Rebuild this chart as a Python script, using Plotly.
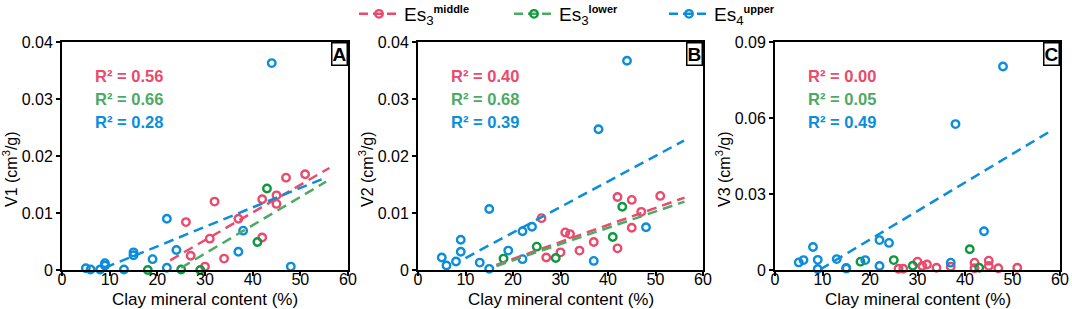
import plotly.graph_objects as go

# ---------------- data ----------------
# Panel A (V1)
xa_mid = [26, 27, 30, 31, 32, 34, 37, 42, 42, 45, 45, 47, 51]
ya_mid = [0.0084, 0.0025, 0.0006, 0.0055, 0.0120, 0.0020, 0.0090, 0.0124, 0.0057, 0.0131, 0.0116, 0.0162, 0.0168]
xa_low = [18, 25, 29, 41, 43]
ya_low = [0.0000, 0.0001, 0.0000, 0.0049, 0.0143]
xa_up = [5, 6, 8, 9, 9, 13, 15, 15, 19, 22, 22, 24, 37, 38, 44, 48]
ya_up = [0.0003, 0.0001, 0.0001, 0.0012, 0.0008, 0.0001, 0.0031, 0.0026, 0.0019, 0.0004, 0.0090, 0.0035, 0.0032, 0.0069, 0.0363, 0.0006]

# Panel B (V2)
xb_mid = [26, 27, 30, 31, 32, 34, 37, 42, 42, 45, 45, 47, 51]
yb_mid = [0.0091, 0.0022, 0.0031, 0.0066, 0.0063, 0.0034, 0.0049, 0.0128, 0.0038, 0.0123, 0.0074, 0.0102, 0.0130]
xb_low = [18, 25, 29, 41, 43]
yb_low = [0.0020, 0.0041, 0.0021, 0.0058, 0.0111]
xb_up = [5, 6, 8, 9, 9, 13, 15, 15, 19, 22, 22, 24, 37, 38, 44, 48]
yb_up = [0.0022, 0.0008, 0.0015, 0.0053, 0.0032, 0.0013, 0.0107, 0.0002, 0.0034, 0.0068, 0.0019, 0.0076, 0.0016, 0.0247, 0.0367, 0.0075]

# Panel C (V3)
xc_mid = [26, 27, 30, 31, 32, 34, 37, 42, 42, 45, 45, 47, 51]
yc_mid = [0.0005, 0.0005, 0.0033, 0.0016, 0.0022, 0.0009, 0.0013, 0.0029, 0.0007, 0.0037, 0.0016, 0.0007, 0.0009]
xc_low = [18, 25, 29, 41, 43]
yc_low = [0.0033, 0.0039, 0.0017, 0.0082, 0.0009]
xc_up = [5, 6, 8, 9, 9, 13, 15, 15, 19, 22, 22, 24, 37, 38, 44, 48]
yc_up = [0.0030, 0.0039, 0.0091, 0.0040, 0.0004, 0.0043, 0.0008, 0.0006, 0.0039, 0.0118, 0.0016, 0.0107, 0.0029, 0.0576, 0.0153, 0.0803]

# fitted trend lines (end points)
fit_a_mid_x, fit_a_mid_y = [22.7, 56.1], [0.0017, 0.0179]
fit_a_low_x, fit_a_low_y = [25.0, 55.4], [0.0004, 0.0155]
fit_a_up_x, fit_a_up_y = [9.0, 55.0], [0.0004, 0.0161]
fit_b_mid_x, fit_b_mid_y = [16.5, 56.1], [0.0009, 0.0127]
fit_b_low_x, fit_b_low_y = [16.5, 56.1], [0.0007, 0.0120]
fit_b_up_x, fit_b_up_y = [10.0, 56.0], [0.0021, 0.0227]
fit_c_up_x, fit_c_up_y = [9.5, 57.8], [0.0002, 0.0546]

r2_a = ["0.56", "0.66", "0.28"]
r2_b = ["0.40", "0.68", "0.39"]
r2_c = ["0.00", "0.05", "0.49"]

y_titles = ["V1", "V2", "V3"]
panel_labels = ["A", "B", "C"]
x_ticks = [0, 10, 20, 30, 40, 50, 60]
y_ticks_ab = [0, 0.01, 0.02, 0.03, 0.04]
y_ticks_c = [0, 0.03, 0.06, 0.09]
series_names = ["Es<sub>3</sub><sup><span style='font-size:11px'><b>middle</b></span></sup>",
                "Es<sub>3</sub><sup><span style='font-size:11px'><b>lower</b></span></sup>",
                "Es<sub>4</sub><sup><span style='font-size:11px'><b>upper</b></span></sup>"]

# ---------------- style ----------------
RED = "#EA4A6C"
GREEN_M = "#0C9A3E"
GREEN_L = "#4DAA65"
BLUE = "#0A8EDC"
FONT = "Liberation Sans, Arial, sans-serif"
W, H = 1072, 309

doms = [[62 / W, 348 / W], [418 / W, 703 / W], [775 / W, 1060 / W]]
ydom = [1 - 270 / H, 1 - 42 / H]

fig = go.Figure()

panels = [
    (xa_mid, ya_mid, xa_low, ya_low, xa_up, ya_up,
     [(fit_a_mid_x, fit_a_mid_y, RED), (fit_a_low_x, fit_a_low_y, GREEN_L), (fit_a_up_x, fit_a_up_y, BLUE)]),
    (xb_mid, yb_mid, xb_low, yb_low, xb_up, yb_up,
     [(fit_b_mid_x, fit_b_mid_y, RED), (fit_b_low_x, fit_b_low_y, GREEN_L), (fit_b_up_x, fit_b_up_y, BLUE)]),
    (xc_mid, yc_mid, xc_low, yc_low, xc_up, yc_up,
     [(fit_c_up_x, fit_c_up_y, BLUE)]),
]

DASH = "10px,6px"
for i, (xm, ym, xl, yl, xu, yu, fits) in enumerate(panels):
    xa = "x" if i == 0 else f"x{i + 1}"
    ya = "y" if i == 0 else f"y{i + 1}"
    for xs, ys, col in [(xm, ym, RED), (xl, yl, GREEN_M), (xu, yu, BLUE)]:
        fig.add_trace(go.Scatter(x=xs, y=ys, mode="markers", xaxis=xa, yaxis=ya,
                                 marker=dict(symbol="circle-open", size=7.5, color=col,
                                             line=dict(width=2.4, color=col)),
                                 cliponaxis=False, showlegend=False))
    for fx, fy, col in fits:
        fig.add_trace(go.Scatter(x=fx, y=fy, mode="lines", xaxis=xa, yaxis=ya,
                                 line=dict(color=col, width=2.5, dash=DASH),
                                 showlegend=False))

# legend entries
for name, mcol, lcol in zip(series_names, [RED, GREEN_M, BLUE], [RED, GREEN_L, BLUE]):
    fig.add_trace(go.Scatter(x=[None], y=[None], mode="lines+markers", name=name,
                             marker=dict(symbol="circle-open", size=7.5, color=mcol,
                                         line=dict(width=2.4, color=mcol)),
                             line=dict(color=lcol, width=2.5, dash="9px,5px")))

axis_common = dict(showline=True, linecolor="black", linewidth=2, mirror=True,
                   ticks="outside", ticklen=4, tickwidth=1.5, tickcolor="black",
                   showgrid=False, zeroline=False, automargin=False,
                   tickfont=dict(family=FONT, size=16, color="black"))

annotations = []
for i in range(3):
    xk = "xaxis" if i == 0 else f"xaxis{i + 1}"
    yk = "yaxis" if i == 0 else f"yaxis{i + 1}"
    ya = "y" if i == 0 else f"y{i + 1}"
    xa = "x" if i == 0 else f"x{i + 1}"
    yt = y_ticks_c if i == 2 else y_ticks_ab
    fig.layout[xk] = dict(domain=doms[i], range=[0, 60], anchor=ya, ticklabelstandoff=-10,
                          tickvals=x_ticks, ticktext=[str(t) for t in x_ticks], **axis_common)
    fig.layout[yk] = dict(domain=ydom, range=[0, yt[-1]], anchor=xa,
                          tickvals=yt, ticktext=["0"] + [f"{t:.2f}" for t in yt[1:]], **axis_common)
    cx = (doms[i][0] + doms[i][1]) / 2
    annotations.append(dict(text="Clay mineral content (%)", xref="paper", yref="paper",
                            x=cx, y=1 - 299 / H, xanchor="center", yanchor="middle",
                            showarrow=False, font=dict(family=FONT, size=17, color="black")))
    annotations.append(dict(text=f"{y_titles[i]} (cm<sup>3</sup>/g)", xref="paper", yref="paper",
                            x=doms[i][0] - 52 / W, y=1 - 169 / H, xanchor="center", yanchor="middle",
                            textangle=-90, showarrow=False,
                            font=dict(family=FONT, size=16, color="black")))
    annotations.append(dict(text=f"<b>{panel_labels[i]}</b>", xref=f"{xa} domain", yref=f"{ya} domain",
                            x=1, y=1, xanchor="right", yanchor="top", showarrow=False,
                            bordercolor="black", borderwidth=1.5, borderpad=0, bgcolor="white",
                            font=dict(family=FONT, size=19, color="black")))
    r2 = [r2_a, r2_b, r2_c][i]
    for j, (val, col) in enumerate(zip(r2, [RED, GREEN_L, BLUE])):
        annotations.append(dict(text=f"R² = {val}", xref=f"{xa} domain", yref="paper",
                                x=31 / 286, y=1 - (76 + 23 * j) / H, xanchor="left", yanchor="middle",
                                showarrow=False,
                                font=dict(family=FONT, size=16.5, color=col, weight="bold")))

fig.update_layout(
    width=W, height=H,
    margin=dict(l=0, r=0, t=0, b=0, autoexpand=False),
    paper_bgcolor="white", plot_bgcolor="white",
    annotations=annotations,
    legend=dict(orientation="h", x=354 / W, xanchor="left", y=1 + 5 / H, yanchor="top",
                entrywidth=100, entrywidthmode="pixels", itemwidth=40,
                font=dict(family=FONT, size=19, color="black"),
                bgcolor="rgba(0,0,0,0)"),
    showlegend=True,
)

fig.write_html("out.html", config={"displayModeBar": False},
               post_script="document.body.style.margin='0px';document.body.style.overflow='hidden';")
